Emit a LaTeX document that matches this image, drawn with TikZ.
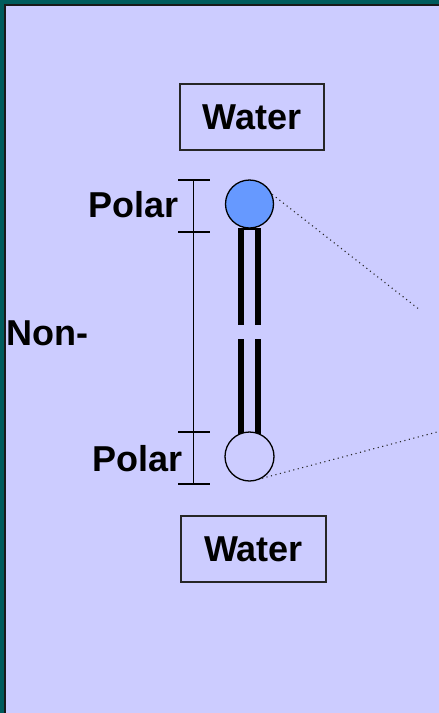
\documentclass[tikz,border=0pt]{standalone}
\usepackage{fontspec}
\setmainfont{Liberation Sans}
\usetikzlibrary{calc}
\definecolor{frameteal}{HTML}{005C5C}
\definecolor{lav}{HTML}{CCCCFF}
\definecolor{headblue}{HTML}{6699FF}
\begin{document}
\begin{tikzpicture}[x=1pt,y=-1pt,
  lbl/.style={inner sep=0pt,font=\fontsize{36}{40}\selectfont\bfseries},
  waterbox/.style={draw=black!85,line width=1.6pt,inner sep=0pt,minimum width=144pt,minimum height=66pt,font=\fontsize{36}{40}\selectfont\bfseries},
  ball/.style={circle,draw=black,line width=1.3pt,inner sep=0pt,minimum size=48pt},
  stick/.style={line width=6pt,black},
  brk/.style={line width=1.4pt,black},
  dots/.style={line width=1.1pt,dash pattern=on 1.1pt off 3.5pt,black!85}]
\useasboundingbox (0,0) rectangle (439,713);
\fill[frameteal] (0,0) rectangle (439,713);
\fill[lav] (5,5) rectangle (439,713);
\draw[line width=1.8pt,black!90] (5,713) -- (5,5) -- (439,5);
% water boxes
\node[waterbox] (wtop) at (252,117) {Water};
\node[waterbox,minimum width=145pt] (wbot) at (253.5,549) {Water};
% sticks
\draw[stick] (241,228) -- (241,325);
\draw[stick] (257.5,228) -- (257.5,325);
\draw[stick] (241,339) -- (241,434);
\draw[stick] (257.5,339) -- (257.5,434);
\draw[line width=1.2pt] (241,229) -- (257.5,229);
\draw[line width=1.2pt] (241,433) -- (257.5,433);
% heads
\node[ball,fill=headblue] (head) at (249.5,204) {};
\node[ball,fill=lav,minimum size=49pt] (tail) at (249.5,456.5) {};
% dotted lines
\coordinate (dtop) at (420,310);
\coordinate (dbot) at (437,432);
\draw[dots] (head.23) -- (dtop);
\draw[dots] (tail.-60) -- (dbot);
% brackets
\coordinate (b1) at (193.5,180);
\coordinate (b2) at (193.5,232);
\coordinate (b3) at (193.5,432);
\coordinate (b4) at (193.5,484);
\draw[brk] (b1) -- (b4);
\foreach \b in {b1,b2,b3,b4} \draw[brk] ($(\b)+(-15.5,0)$) -- ($(\b)+(16.5,0)$);
% labels
\node[lbl,anchor=base east] (p1) at (179,217) {Polar};
\node[lbl,anchor=base east] (p2) at (183,471) {Polar};
\node[lbl,anchor=base west] (nonp) at (6,345) {Non-};
\end{tikzpicture}
\end{document}
